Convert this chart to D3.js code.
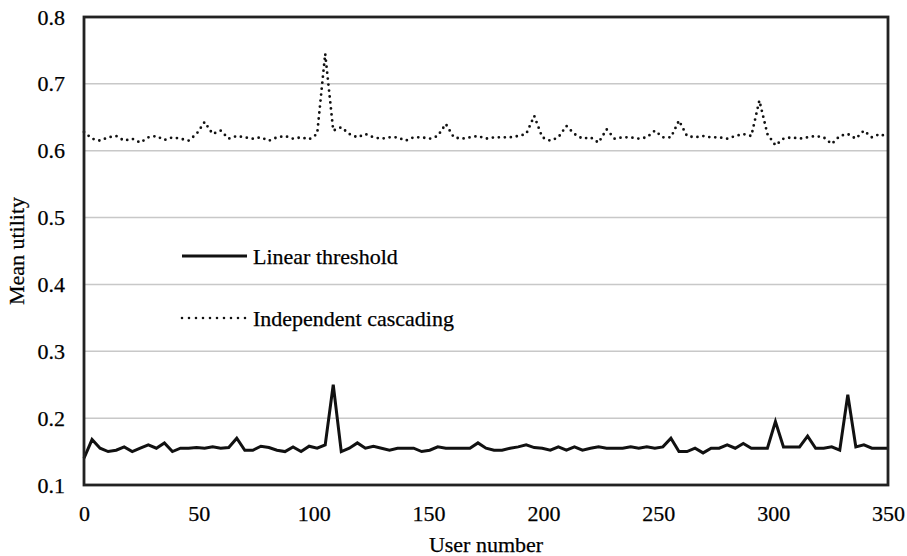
<!DOCTYPE html>
<html>
<head>
<meta charset="utf-8">
<title>mean utility</title>
<script src="https://cdn.jsdelivr.net/npm/d3@7"></script>
<style>
  body { margin: 0; background: #fff; }
  text { font-family: "Liberation Serif", "DejaVu Serif", serif; fill: #000; stroke: #000; stroke-width: 0.25px; }
</style>
</head>
<body>
<script>
// user number axis, one sample every 3.5 users
var users = d3.range(0, 350.01, 3.5);

var linearThreshold = [
  0.140,0.168,0.155,0.150,0.152,0.157,0.150,0.155,0.160,0.155,
  0.163,0.150,0.155,0.155,0.156,0.155,0.157,0.155,0.156,0.170,
  0.152,0.152,0.158,0.156,0.152,0.150,0.157,0.150,0.158,0.155,
  0.160,0.250,0.150,0.155,0.163,0.155,0.158,0.155,0.152,0.155,
  0.155,0.155,0.150,0.152,0.157,0.155,0.155,0.155,0.155,0.163,
  0.155,0.152,0.152,0.155,0.157,0.160,0.156,0.155,0.152,0.157,
  0.152,0.157,0.152,0.155,0.157,0.155,0.155,0.155,0.157,0.155,
  0.157,0.155,0.157,0.170,0.150,0.150,0.155,0.148,0.155,0.155,
  0.160,0.155,0.162,0.155,0.155,0.155,0.195,0.157,0.157,0.157,
  0.173,0.155,0.155,0.157,0.152,0.235,0.157,0.160,0.155,0.155,
  0.155
];

var independentCascading = [
  0.628,0.618,0.615,0.620,0.622,0.615,0.618,0.612,0.620,0.622,
  0.616,0.620,0.618,0.615,0.625,0.643,0.625,0.630,0.618,0.622,
  0.620,0.618,0.620,0.615,0.620,0.622,0.618,0.620,0.617,0.625,
  0.745,0.630,0.635,0.625,0.620,0.625,0.620,0.618,0.620,0.620,
  0.615,0.620,0.620,0.618,0.622,0.640,0.620,0.618,0.620,0.622,
  0.618,0.620,0.620,0.620,0.622,0.625,0.652,0.620,0.615,0.620,
  0.637,0.625,0.618,0.620,0.612,0.632,0.618,0.620,0.620,0.618,
  0.620,0.630,0.620,0.620,0.645,0.622,0.620,0.622,0.620,0.620,
  0.618,0.622,0.625,0.622,0.675,0.625,0.608,0.618,0.620,0.618,
  0.620,0.622,0.620,0.610,0.622,0.625,0.618,0.630,0.620,0.625,
  0.620
];

var xTicks = [0, 50, 100, 150, 200, 250, 300, 350];
var yTicks = [0.1, 0.2, 0.3, 0.4, 0.5, 0.6, 0.7, 0.8];
var seriesNames = ["Linear threshold", "Independent cascading"];

var width = 907, height = 556;
var margin = {left: 84, right: 19, top: 17, bottom: 71};
var svg = d3.select("body").append("svg").attr("width", width).attr("height", height);

var x = d3.scaleLinear().domain([0, 350]).range([margin.left, width - margin.right]);
var y = d3.scaleLinear().domain([0.1, 0.8]).range([height - margin.bottom, margin.top]);

// grid
svg.selectAll(".grid")
   .data(yTicks.slice(1, -1))
   .enter().append("line")
   .attr("x1", x(0)).attr("x2", x(350))
   .attr("y1", d => y(d)).attr("y2", d => y(d))
   .attr("stroke", "#c8c8c8")
   .attr("stroke-width", 1.5);

// axes
var yAxis = svg.append("g")
   .attr("transform", "translate(" + x(0) + ",0)")
   .call(d3.axisLeft(y).tickValues(yTicks).tickFormat(d3.format(".1f")).tickSize(0).tickPadding(19));
var xAxis = svg.append("g")
   .attr("transform", "translate(0," + y(0.1) + ")")
   .call(d3.axisBottom(x).tickValues(xTicks).tickSize(0).tickPadding(20));
[xAxis, yAxis].forEach(function(g) {
  g.select(".domain").remove();
  g.selectAll("text").style("font-size", "22px").attr("fill", "#000");
});

var line = d3.line().x((d, i) => x(users[i])).y(d => y(d));

svg.append("path")
   .datum(independentCascading)
   .attr("d", line)
   .attr("fill", "none")
   .attr("stroke", "#111")
   .attr("stroke-width", 2.8)
   .attr("stroke-linecap", "round")
   .attr("stroke-dasharray", "0,6");

svg.append("path")
   .datum(linearThreshold)
   .attr("d", line)
   .attr("fill", "none")
   .attr("stroke", "#111")
   .attr("stroke-width", 3)
   .attr("stroke-linejoin", "miter");

// frame
svg.append("rect")
   .attr("x", x(0)).attr("y", y(0.8))
   .attr("width", x(350) - x(0)).attr("height", y(0.1) - y(0.8))
   .attr("fill", "none")
   .attr("stroke", "#222")
   .attr("stroke-width", 2.8);

// legend
var legend = svg.selectAll(".legend")
   .data(seriesNames)
   .enter().append("g")
   .attr("transform", (d, i) => "translate(182," + (256 + i * 62) + ")");
legend.append("line")
   .attr("x1", 0).attr("x2", 65)
   .attr("stroke", "#111")
   .attr("stroke-width", (d, i) => i == 0 ? 3 : 2.6)
   .attr("stroke-linecap", (d, i) => i == 0 ? "butt" : "round")
   .attr("stroke-dasharray", (d, i) => i == 0 ? null : "0,7");
legend.append("text")
   .attr("x", 71).attr("y", 8)
   .style("font-size", "22px")
   .text(d => d);

// axis titles
svg.append("text")
   .attr("x", (x(0) + x(350)) / 2).attr("y", 552)
   .attr("text-anchor", "middle")
   .style("font-size", "22px")
   .text("User number");
svg.append("text")
   .attr("transform", "translate(24," + (y(0.45)) + ") rotate(-90)")
   .attr("text-anchor", "middle")
   .style("font-size", "22px")
   .text("Mean utility");
</script>
</body>
</html>
